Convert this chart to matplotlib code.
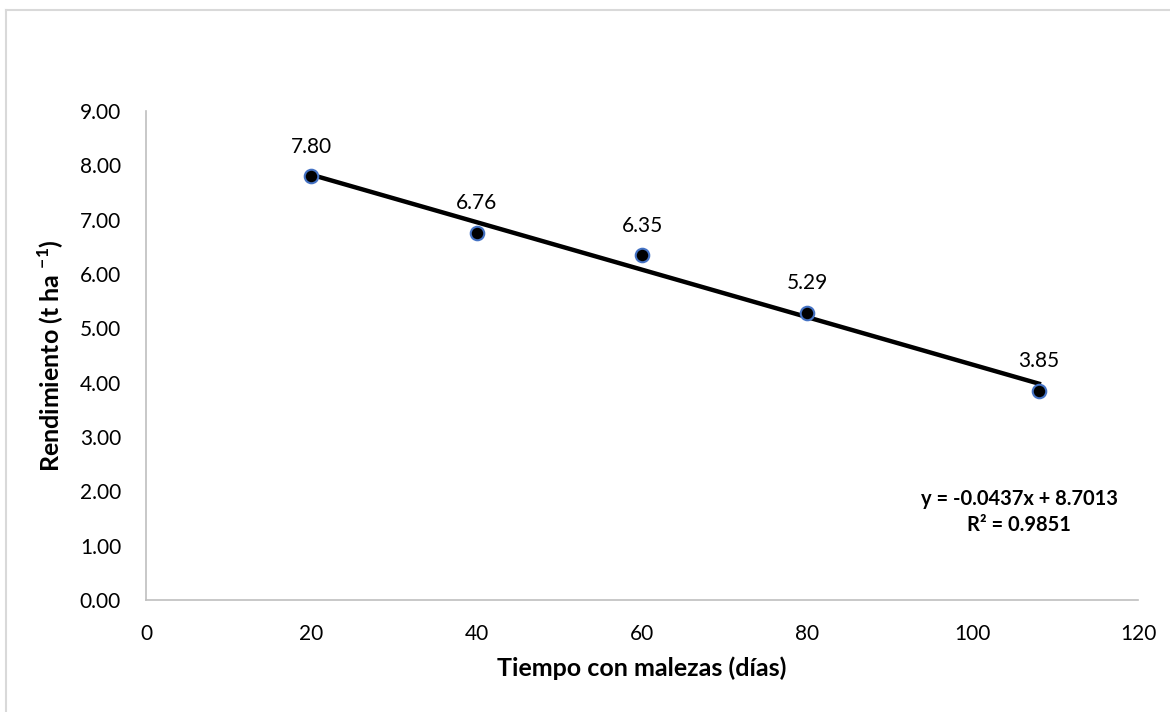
import numpy as np
import matplotlib
matplotlib.use("Agg")
import matplotlib.pyplot as plt
from matplotlib.lines import Line2D

plt.rcParams["font.family"] = ["Lato", "DejaVu Sans"]
plt.rcParams["mathtext.fontset"] = "custom"
plt.rcParams["mathtext.bf"] = "Lato:bold"
plt.rcParams["mathtext.rm"] = "Lato"

# data
dias = [20, 40, 60, 80, 108]
rendimiento = [7.80, 6.76, 6.35, 5.29, 3.85]
x_ticks = [0, 20, 40, 60, 80, 100, 120]
y_ticks = [0, 1, 2, 3, 4, 5, 6, 7, 8, 9]
# trend line as printed on the chart
trend_slope = -0.0437
trend_intercept = 8.7013
trend_r2 = 0.9851

fig = plt.figure(figsize=(11.7, 7.12), dpi=100)
ax = fig.add_axes([0.1248, 0.1573, 0.8479, 0.6868])

# outer chart frame (only top and left edge show)
fig.add_artist(Line2D([6 / 1170, 1], [1 - 10 / 712, 1 - 10 / 712], color="#d9d9d9", lw=1.5))
fig.add_artist(Line2D([6 / 1170, 6 / 1170], [0, 1 - 10 / 712], color="#d9d9d9", lw=1.5))

xs = np.array([dias[0], dias[-1]])
ax.plot(xs, trend_slope * xs + trend_intercept, color="black", lw=3.2, zorder=2)

ax.scatter(dias, rendimiento, s=95, facecolor="black", edgecolor="#4472c4", linewidth=1.5, zorder=3)
for x, y in zip(dias, rendimiento):
    ax.annotate(f"{y:.2f}", (x, y), xytext=(0, 14), textcoords="offset points",
                ha="center", va="bottom", fontsize=15)

ax.text(105.6, 2.04, f"y = {trend_slope:.4f}x + {trend_intercept:.4f}\nR² = {trend_r2:.4f}",
        ha="center", va="top", fontsize=14.5, fontweight="bold", linespacing=1.35)

ax.set_xlim(0, 120)
ax.set_ylim(0, 9)
ax.set_xticks(x_ticks)
ax.set_yticks(y_ticks)
ax.set_yticklabels([f"{v:.2f}" for v in y_ticks])
ax.tick_params(length=0, labelsize=15, pad=18)
ax.tick_params(axis="x", pad=17)
for s in ["top", "right"]:
    ax.spines[s].set_visible(False)
for s in ["left", "bottom"]:
    ax.spines[s].set_color("#bfbfbf")
    ax.spines[s].set_linewidth(1.2)

ax.set_xlabel("Tiempo con malezas (días)", fontsize=18, fontweight="bold", labelpad=9)
ax.set_ylabel("Rendimiento (t ha $^{\\mathbf{-1}}$)", fontsize=18, fontweight="bold", labelpad=10)

fig.savefig("out.png", dpi=100)
